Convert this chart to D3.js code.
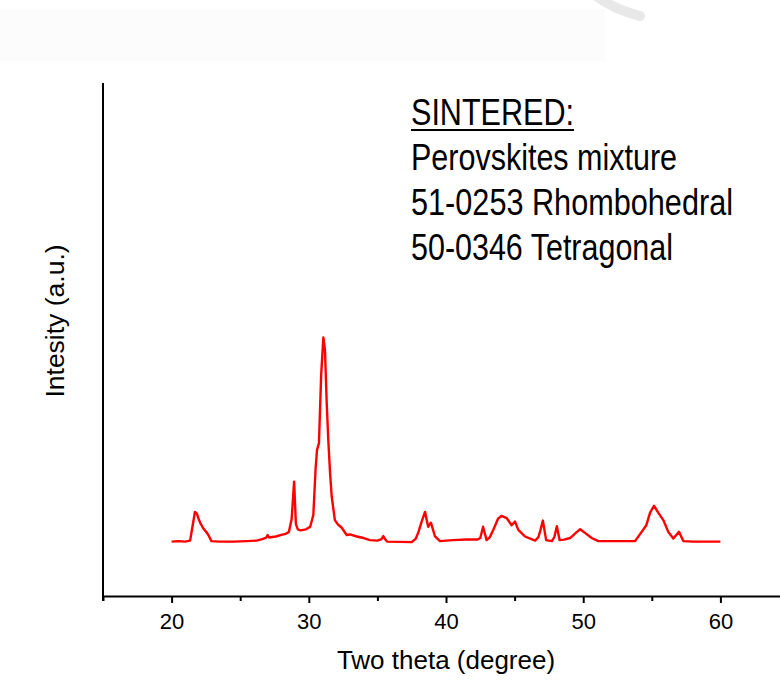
<!DOCTYPE html>
<html>
<head>
<meta charset="utf-8">
<script src="https://cdn.jsdelivr.net/npm/d3@7"></script>
<style>
  html, body { margin: 0; padding: 0; background: #fff; }
  svg { display: block; }
</style>
</head>
<body>
<svg id="svg" width="780" height="682"></svg>
<script>
// XRD pattern (2θ in degrees, intensity in arbitrary units)
const twoTheta = [
  20.0, 20.5, 21.0, 21.35, 21.55, 21.7, 21.85, 22.0, 22.1, 22.3, 22.55, 22.7, 22.9,
  23.5, 24.5, 25.5, 26.2, 26.6, 26.9, 27.0, 27.1, 27.6, 28.0, 28.3, 28.55, 28.75,
  28.93, 29.06, 29.2, 29.4, 29.8, 30.1, 30.33, 30.5, 30.6, 30.74, 30.9, 31.06, 31.18,
  31.3, 31.42, 31.55, 31.67, 31.9, 32.1, 32.4, 32.76, 33.0, 33.5, 34.0, 34.46, 35.0,
  35.3, 35.43, 35.55, 35.7, 37.5, 37.8, 38.0, 38.2, 38.47, 38.7, 38.9, 39.2, 39.56,
  40.5, 41.5, 42.3, 42.5, 42.7, 42.96, 43.2, 43.45, 43.8, 44.05, 44.42, 44.78, 45.03,
  45.27, 45.76, 46.5, 46.74, 46.9, 47.06, 47.3, 47.72, 47.9, 48.08, 48.28, 48.6, 49.05,
  49.5, 49.78, 50.13, 50.62, 51.1, 52.0, 53.0, 53.78, 54.26, 54.6, 54.87, 55.16, 55.48,
  55.84, 56.2, 56.57, 56.98, 57.3, 58.0, 59.0, 60.0
];
const intensity = [
  106, 107, 106, 108, 140, 164, 160, 148, 142, 132, 124, 118, 107,
  106, 106, 107, 108, 111, 114, 119, 114, 116, 119, 121, 125, 150,
  223, 140, 130, 128, 130, 135, 158, 250, 285, 298, 430, 504, 479,
  380, 304, 240, 194, 148, 140, 133, 119, 120, 116, 113, 109, 108,
  111, 117, 111, 106, 105, 112, 125, 143, 164, 135, 143, 116, 107,
  109, 110, 110, 113, 135, 109, 115, 129, 151, 156, 152, 138, 145,
  129, 116, 108, 115, 130, 147, 109, 107, 115, 136, 109, 110, 113,
  124, 130, 123, 113, 107, 107, 107, 107, 125, 138, 162, 176, 162,
  148, 125, 112, 125, 107, 106, 106, 106
];

const majorTicks = [20, 30, 40, 50, 60];
const minorTicks = [15, 25, 35, 45, 55];
const xTitle = "Two theta (degree)";
const yTitle = "Intesity (a.u.)";
const noteLines = [
  "SINTERED:",
  "Perovskites mixture",
  "51-0253 Rhombohedral",
  "50-0346 Tetragonal"
];

const svg = d3.select("#svg");
const FONT = "'Liberation Sans', Arial, sans-serif";
const NARROW = "'Liberation Sans Narrow', 'Arial Narrow', 'Liberation Sans', Arial, sans-serif";

// faint scan background bits
svg.append("rect")
  .attr("x", 0).attr("y", 9).attr("width", 605).attr("height", 53)
  .attr("fill", "#fcfcfc");
svg.append("path")
  .attr("d", "M594,-6 Q610,8 640,16")
  .attr("fill", "none").attr("stroke", "#e8e8e8")
  .attr("stroke-width", 10).attr("stroke-linecap", "round");

// scales
const x = d3.scaleLinear().domain([15, 65]).range([103, 789]);
const y = d3.scaleLinear().domain([0, 1000]).range([596, 83]);

// y axis (no ticks)
svg.append("line")
  .attr("x1", 103).attr("x2", 103)
  .attr("y1", 83).attr("y2", 601)
  .attr("stroke", "#000").attr("stroke-width", 2);

// x axis, major + minor
const gx = svg.append("g").attr("transform", "translate(0,596)");
gx.call(d3.axisBottom(x).tickValues(majorTicks).tickSize(7).tickSizeOuter(0).tickPadding(10));
gx.select(".domain").attr("stroke-width", 2);
gx.selectAll(".tick line").attr("stroke-width", 2);
gx.selectAll(".tick text")
  .attr("font-family", FONT).attr("font-size", 22).attr("fill", "#000");

const gxm = svg.append("g").attr("transform", "translate(0,596)");
gxm.call(d3.axisBottom(x).tickValues(minorTicks).tickSize(5).tickFormat(""));
gxm.select(".domain").remove();
gxm.selectAll(".tick line").attr("stroke-width", 2);

// axis titles
svg.append("text")
  .attr("x", 446).attr("y", 669)
  .attr("text-anchor", "middle")
  .attr("font-family", FONT).attr("font-size", 26)
  .text(xTitle);

svg.append("text")
  .attr("transform", "translate(64,321) rotate(-90)")
  .attr("text-anchor", "middle")
  .attr("font-family", FONT).attr("font-size", 26.5)
  .text(yTitle);

// the pattern
const line = d3.line()
  .x((d, i) => x(twoTheta[i]))
  .y(d => y(d));
svg.append("path")
  .datum(intensity)
  .attr("d", line)
  .attr("fill", "none")
  .attr("stroke", "#ff0000")
  .attr("stroke-width", 2.4)
  .attr("stroke-linejoin", "round");

// note text block (tall narrow lettering: stretch a smaller font vertically)
const noteWidths = [163, 266, 322, 262];
noteLines.forEach((t, i) => {
  svg.append("g")
    .attr("transform", `translate(411,${125 + i * 45}) scale(1,1.19)`)
    .append("text")
    .attr("x", 0).attr("y", 0)
    .attr("font-family", NARROW).attr("font-size", 31)
    .attr("textLength", noteWidths[i])
    .attr("lengthAdjust", "spacingAndGlyphs")
    .text(t);
});
svg.append("line")
  .attr("x1", 411).attr("x2", 574)
  .attr("y1", 130).attr("y2", 130)
  .attr("stroke", "#000").attr("stroke-width", 2);
</script>
</body>
</html>
